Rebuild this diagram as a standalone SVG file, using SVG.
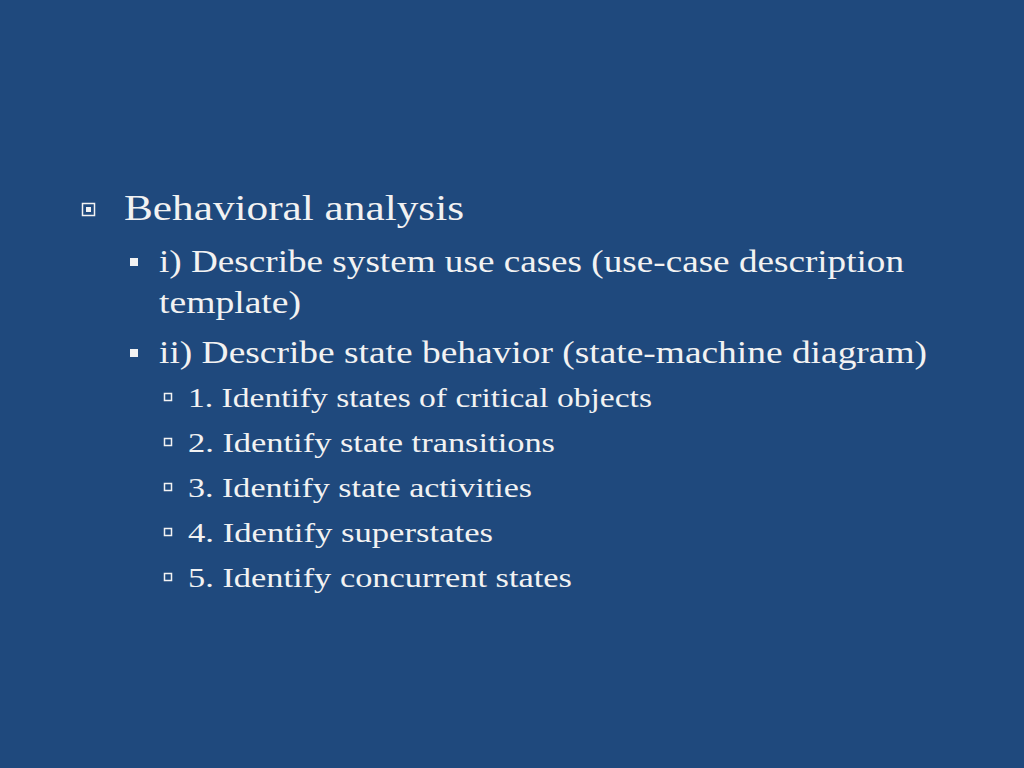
<svg xmlns="http://www.w3.org/2000/svg" width="1024" height="768" viewBox="0 0 1024 768">
<style>
text{font-family:"Liberation Serif","DejaVu Serif",serif;fill:#F2F2F2}
.l1{font-size:35px}.l2{font-size:31px}.l3{font-size:28px}
.hb{fill:none;stroke:#F2F2F2;stroke-width:1.5}
</style>
<rect width="1024" height="768" fill="#1F497D"/>
<rect class="hb" x="82.5" y="203.5" width="12" height="12"/>
<rect x="86" y="207" width="5" height="5" fill="#F2F2F2"/>
<text class="l1" x="124" y="220" textLength="340" lengthAdjust="spacingAndGlyphs">Behavioral analysis</text>
<rect x="130" y="258" width="8" height="8" fill="#F2F2F2"/>
<text class="l2" x="159" y="272" textLength="745" lengthAdjust="spacingAndGlyphs">i) Describe system use cases (use-case description</text>
<text class="l2" x="159" y="313" textLength="142" lengthAdjust="spacingAndGlyphs">template)</text>
<rect x="130" y="349" width="8" height="8" fill="#F2F2F2"/>
<text class="l2" x="159" y="363" textLength="768" lengthAdjust="spacingAndGlyphs">ii) Describe state behavior (state-machine diagram)</text>
<rect class="hb" x="164.5" y="393.5" width="7" height="7"/>
<text class="l3" x="188" y="407" textLength="464" lengthAdjust="spacingAndGlyphs">1. Identify states of critical objects</text>
<rect class="hb" x="164.5" y="438.5" width="7" height="7"/>
<text class="l3" x="188" y="452" textLength="367" lengthAdjust="spacingAndGlyphs">2. Identify state transitions</text>
<rect class="hb" x="164.5" y="483.5" width="7" height="7"/>
<text class="l3" x="188" y="497" textLength="344" lengthAdjust="spacingAndGlyphs">3. Identify state activities</text>
<rect class="hb" x="164.5" y="528.5" width="7" height="7"/>
<text class="l3" x="188" y="542" textLength="305" lengthAdjust="spacingAndGlyphs">4. Identify superstates</text>
<rect class="hb" x="164.5" y="573.5" width="7" height="7"/>
<text class="l3" x="188" y="587" textLength="384" lengthAdjust="spacingAndGlyphs">5. Identify concurrent states</text>
</svg>
